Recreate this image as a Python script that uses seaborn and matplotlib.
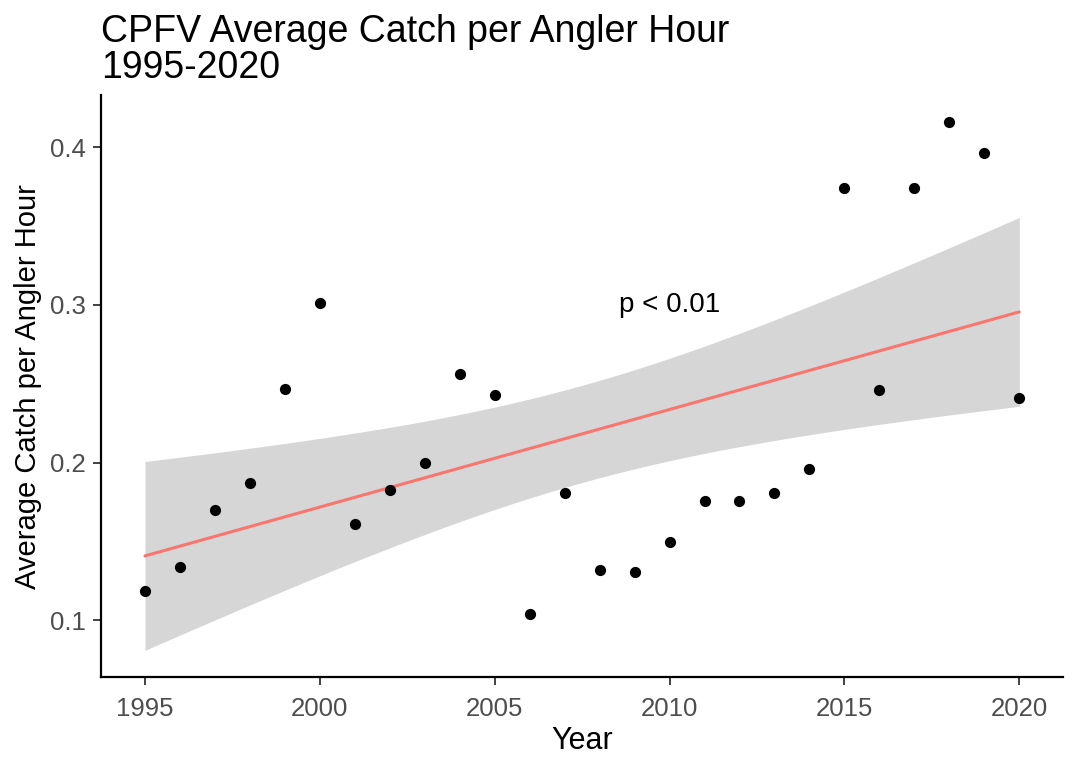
import numpy as np
import pandas as pd
import matplotlib
matplotlib.use("Agg")
import matplotlib.pyplot as plt
import seaborn as sns

# Dữ liệu
years = list(range(1995, 2021))
catch_per_hour = [0.119, 0.134, 0.170, 0.187, 0.247, 0.301, 0.161, 0.183, 0.200, 0.256,
                  0.243, 0.104, 0.181, 0.132, 0.131, 0.150, 0.176, 0.176, 0.181, 0.196,
                  0.374, 0.246, 0.374, 0.416, 0.396, 0.241]
y_ticks = [0.1, 0.2, 0.3, 0.4]
x_ticks = [1995, 2000, 2005, 2010, 2015, 2020]

data = pd.DataFrame({'Year': years, 'Catch': catch_per_hour})

# Hồi quy tuyến tính + khoảng tin cậy 95% (giống geom_smooth(method='lm'))
x = data['Year'].to_numpy(dtype=float)
y = data['Catch'].to_numpy()
n = len(x)
slope, intercept = np.polyfit(x, y, 1)
resid = y - (intercept + slope * x)
s = np.sqrt(np.sum(resid ** 2) / (n - 2))
t_crit = 2.064  # t(0.975, df=24)
grid = np.linspace(x.min(), x.max(), 80)
fit = intercept + slope * grid
se = s * np.sqrt(1 / n + (grid - x.mean()) ** 2 / np.sum((x - x.mean()) ** 2))
fit_df = pd.DataFrame({'Year': grid, 'fit': fit,
                       'lo': fit - t_crit * se, 'hi': fit + t_crit * se})

sns.set_style('white')
plt.rcParams['font.family'] = ['Liberation Sans', 'DejaVu Sans']
plt.rcParams['text.color'] = 'black'

fig = plt.figure(figsize=(10.77, 7.61), dpi=100)
ax = fig.add_axes([0.094, 0.110, 0.893, 0.765])

ax.fill_between(fit_df['Year'], fit_df['lo'], fit_df['hi'], color='#D6D6D6',
                linewidth=0, zorder=1)
sns.lineplot(data=fit_df, x='Year', y='fit', ax=ax, color='#F8766D', linewidth=2.2, zorder=2)
sns.scatterplot(data=data, x='Year', y='Catch', ax=ax, color='black', s=65,
                linewidth=0, zorder=3)

ax.text(2010, 0.3, 'p < 0.01', fontsize=20, ha='center', va='center', color='black')

ax.set_xlim(1993.75, 2021.25)
ax.set_ylim(0.064, 0.433)
ax.set_xticks(x_ticks)
ax.set_yticks(y_ticks)
ax.set_yticklabels([str(t) for t in y_ticks])
ax.tick_params(axis='both', labelsize=18.5, labelcolor='#4D4D4D', length=6, width=1.3,
               color='#333333', direction='out')
ax.tick_params(axis='x', pad=8)
ax.tick_params(axis='y', pad=5)
ax.tick_params(axis='both', which='both', bottom=True, left=True)

for side in ['top', 'right']:
    ax.spines[side].set_visible(False)
for side in ['left', 'bottom']:
    ax.spines[side].set_color('black')
    ax.spines[side].set_linewidth(1.6)

ax.set_xlabel('Year', fontsize=22, labelpad=4, color='black')
ax.set_ylabel('Average Catch per Angler Hour', fontsize=21, labelpad=6, color='black')
ax.set_title('CPFV Average Catch per Angler Hour\n1995-2020', fontsize=27,
             loc='left', pad=12, linespacing=1.0, color='black')

plt.savefig('out.png', dpi=100)
